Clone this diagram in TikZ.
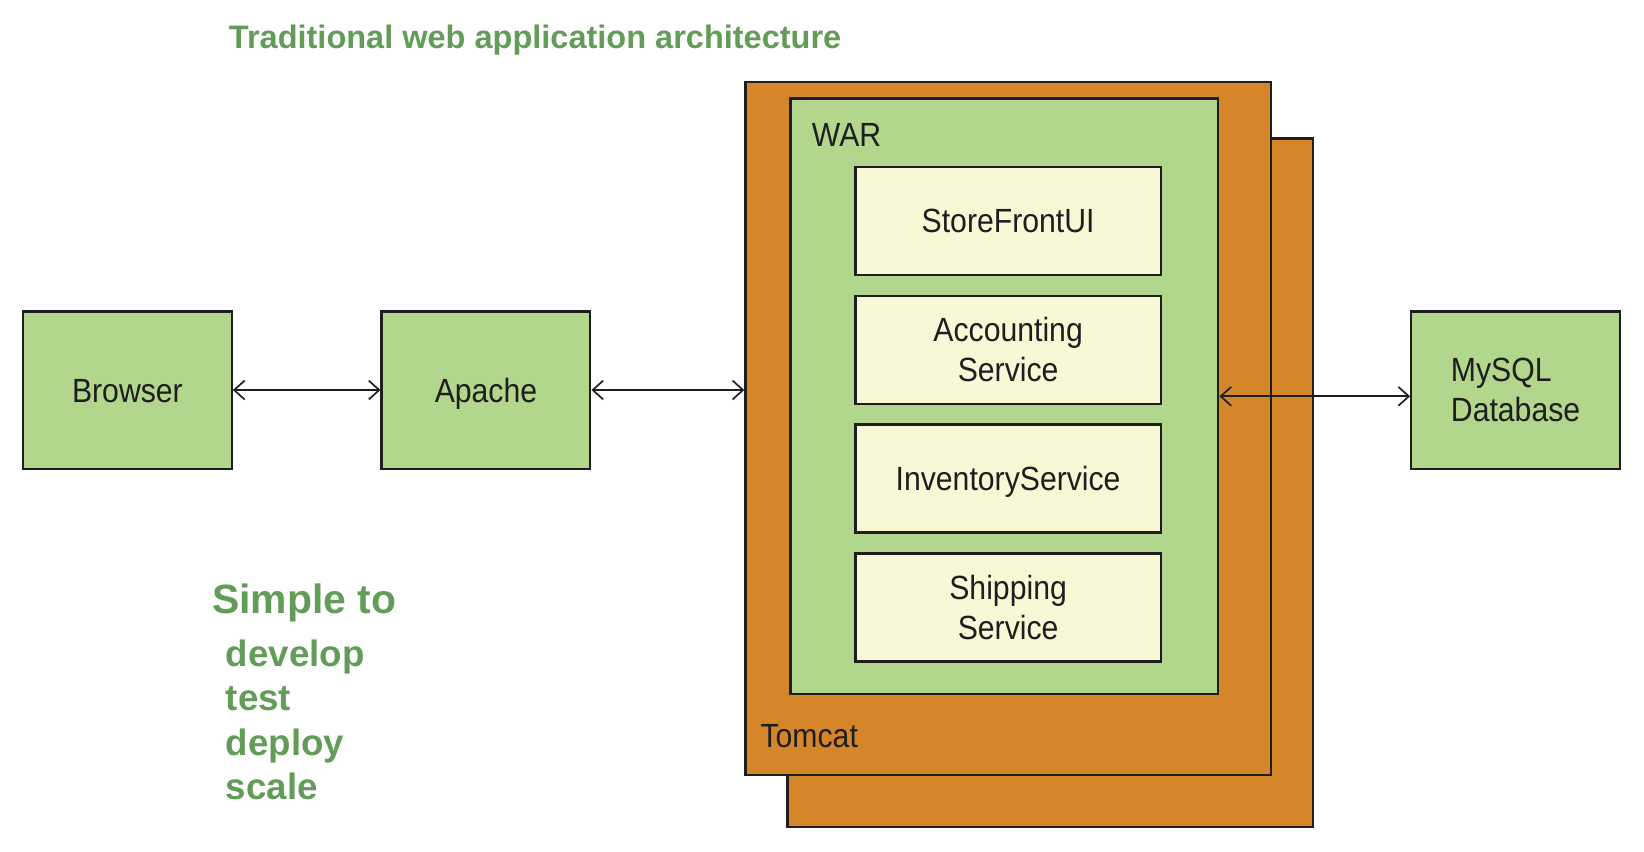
\documentclass[tikz,border=0pt]{standalone}
\usepackage{fontspec}
\setmainfont{Liberation Sans}
\newfontfamily\bodyfont[FakeStretch=0.9]{Liberation Sans}
\usetikzlibrary{arrows.meta}
\definecolor{boxgreen}{HTML}{B1D68C}
\definecolor{tomcatorange}{HTML}{D58628}
\definecolor{cream}{HTML}{F8F8D6}
\definecolor{titlegreen}{HTML}{629C58}
\definecolor{ink}{HTML}{1E1E1E}
\tikzset{
  base/.style={draw=ink, line width=1.1pt, text=ink, inner sep=0pt,
    font=\bodyfont\fontsize{16}{19}\selectfont, align=center},
  oneline/.style={text height=11.5pt, text depth=0pt},
  gbox/.style={base, fill=boxgreen, minimum width=99.5pt, minimum height=75pt},
  tbox/.style={base, fill=tomcatorange, minimum width=250.5pt},
  warbox/.style={base, fill=boxgreen, minimum width=204pt, minimum height=284pt},
  svc/.style={base, fill=cream, minimum width=145.5pt, minimum height=51.5pt},
  lbl/.style={text=ink, inner sep=0pt, anchor=base west, font=\bodyfont\fontsize{16}{19}\selectfont},
  gtext/.style={text=titlegreen, inner sep=0pt, anchor=base west, font=\bfseries\fontsize{17.5}{21}\selectfont},
  link/.style={draw=ink, line width=0.8pt, {Straight Barb[length=5pt,width=9pt]}-{Straight Barb[length=5pt,width=9pt]}}
}
\begin{document}
\begin{tikzpicture}[x=0.5pt,y=-0.5pt]
\useasboundingbox (0,0) rectangle (1568,811.7);
% title
\node[gtext, font=\bfseries\fontsize{15.5}{18}\selectfont] (title) at (218,46) {Traditional web application architecture};
% left boxes
\node[gbox, oneline] (browser) at (121.5,372) {Browser};
\node[gbox, oneline] (apache) at (463.5,372) {Apache};
\node[gbox, align=left] (mysql) at (1445.5,372) {MySQL\\Database};
% tomcat stack
\node[tbox, minimum height=328.5pt] (tomcatback) at (1001.5,460.5) {};
\node[tbox, minimum height=330.5pt] (tomcat) at (961.5,408.5) {};
\node[lbl] (tomcatlbl) at (725,713) {Tomcat};
\node[warbox] (war) at (958,378) {};
\node[lbl] (warlbl) at (774,140) {WAR};
\node[svc, oneline] (store) at (961.5,210.5) {StoreFrontUI};
\node[svc] (acct) at (961.5,333.5) {Accounting\\Service};
\node[svc, oneline] (inv) at (961.5,456.5) {InventoryService};
\node[svc] (ship) at (961.5,579.5) {Shipping\\Service};
% connectors
\draw[link] (browser.east) -- (apache.west);
\draw[link] (apache.east) -- (apache.east -| tomcat.west);
\draw[link] (war.east) -- (mysql.west |- war.east);
% left text
\node[gtext, font=\bfseries\fontsize{19.5}{24}\selectfont] (simple) at (202,585) {Simple to};
\node[gtext] (dev) at (215,636) {develop};
\node[gtext] (test) at (215,678) {test};
\node[gtext] (deploy) at (215,721) {deploy};
\node[gtext] (scale) at (215,763) {scale};
\end{tikzpicture}
\end{document}
